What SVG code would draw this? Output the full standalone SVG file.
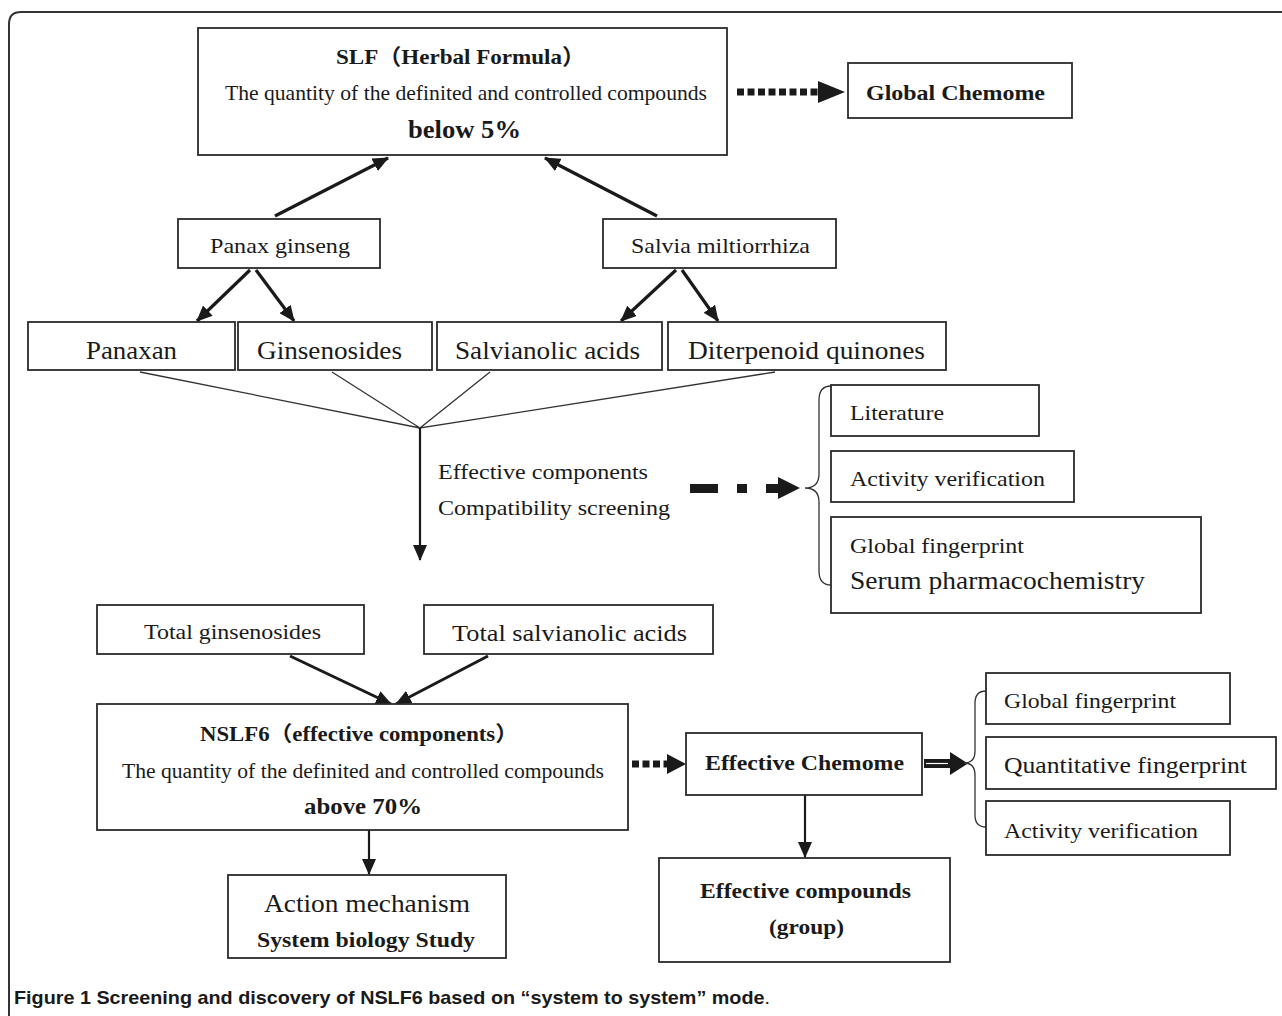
<svg xmlns="http://www.w3.org/2000/svg" width="1282" height="1016" viewBox="0 0 1282 1016">
<defs>
<style>
.bx{fill:#fff;stroke:#2b2b2b;stroke-width:1.8}
.t{font-family:"Liberation Serif","Noto Sans CJK SC",serif;fill:#1a1a1a}
.b{font-weight:bold}
.ln{stroke:#1a1a1a;fill:none}
.th{stroke:#333;stroke-width:1.3;fill:none}
.cap{font-family:"Liberation Sans","Noto Sans",sans-serif;fill:#1a1a1a}
</style>
<marker id="ah" markerUnits="userSpaceOnUse" markerWidth="16" markerHeight="14" refX="15" refY="7" orient="auto">
<path d="M0,0 L16,7 L0,14 z" fill="#1a1a1a"/>
</marker>
</defs>
<rect width="1282" height="1016" fill="#fff"/>
<path d="M9,1016 L9,24 Q9,12 21,12 L1282,12" fill="none" stroke="#333" stroke-width="2"/>

<g id="connectors">
<line class="ln" stroke-width="3.2" x1="275" y1="216" x2="388" y2="158" marker-end="url(#ah)"/>
<line class="ln" stroke-width="3.2" x1="657" y1="216" x2="545" y2="158" marker-end="url(#ah)"/>
<line class="ln" stroke-width="3.2" x1="250" y1="270" x2="197" y2="321" marker-end="url(#ah)"/>
<line class="ln" stroke-width="3.2" x1="256" y1="270" x2="294" y2="321" marker-end="url(#ah)"/>
<line class="ln" stroke-width="3.2" x1="676" y1="270" x2="621" y2="321" marker-end="url(#ah)"/>
<line class="ln" stroke-width="3.2" x1="682" y1="270" x2="718" y2="321" marker-end="url(#ah)"/>
<polyline class="th" points="140,372 420,428 332,372"/>
<polyline class="th" points="490,372 420,428 775,372"/>
<line class="ln" stroke-width="2.2" x1="420" y1="428" x2="420" y2="560" marker-end="url(#ah)"/>
<line class="ln" stroke-width="7" stroke-dasharray="7,3.5" x1="737" y1="92" x2="818" y2="92"/>
<polygon points="818,81 845,92 818,103" fill="#1a1a1a"/>
<rect x="690" y="484" width="28" height="9" fill="#1a1a1a"/>
<rect x="737" y="484" width="10" height="9" fill="#1a1a1a"/>
<rect x="766" y="484" width="13" height="9" fill="#1a1a1a"/>
<polygon points="778,477 800,488 778,499" fill="#1a1a1a"/>
<path class="th" d="M831,386 Q819,386 819,400 L819,474 Q819,488 805,488 Q819,488 819,502 L819,571 Q819,585 831,585"/>
<line class="ln" stroke-width="3" x1="290" y1="656" x2="391" y2="704" marker-end="url(#ah)"/>
<line class="ln" stroke-width="3" x1="488" y1="656" x2="396" y2="704" marker-end="url(#ah)"/>
<line class="ln" stroke-width="2.2" x1="369" y1="830" x2="369" y2="874" marker-end="url(#ah)"/>
<line class="ln" stroke-width="7" stroke-dasharray="7,3.5" x1="632" y1="764" x2="668" y2="764"/>
<polygon points="667,754 686,764 667,774" fill="#1a1a1a"/>
<rect x="924" y="759" width="28" height="9" fill="#1a1a1a"/>
<line x1="926" y1="763.5" x2="948" y2="763.5" stroke="#fff" stroke-width="1.2"/>
<polygon points="950,752 968,763.5 950,775" fill="#1a1a1a"/>
<path class="th" d="M986,691 Q975,691 975,703 L975,751 Q975,763 964,763 Q975,763 975,775 L975,815 Q975,827 986,827"/>
<line class="ln" stroke-width="2.2" x1="805" y1="795" x2="805" y2="857" marker-end="url(#ah)"/>
</g>

<g id="slf">
<rect class="bx" x="198" y="28" width="529" height="127"/>
<text class="t b" x="336" y="64" font-size="22" textLength="249" lengthAdjust="spacingAndGlyphs">SLF（Herbal Formula）</text>
<text class="t" x="225" y="100" font-size="21" textLength="482" lengthAdjust="spacingAndGlyphs">The quantity of the definited and controlled compounds</text>
<text class="t b" x="408" y="138" font-size="26" textLength="113" lengthAdjust="spacingAndGlyphs">below 5%</text>
</g>
<g id="global-chemome">
<rect class="bx" x="848" y="63" width="224" height="55"/>
<text class="t b" x="866" y="100" font-size="22" textLength="179" lengthAdjust="spacingAndGlyphs">Global Chemome</text>
</g>
<g id="panax-ginseng">
<rect class="bx" x="178" y="219" width="202" height="49"/>
<text class="t" x="210" y="253" font-size="21" textLength="140" lengthAdjust="spacingAndGlyphs">Panax ginseng</text>
</g>
<g id="salvia">
<rect class="bx" x="603" y="219" width="233" height="49"/>
<text class="t" x="631" y="253" font-size="21" textLength="179" lengthAdjust="spacingAndGlyphs">Salvia miltiorrhiza</text>
</g>
<g id="panaxan">
<rect class="bx" x="28" y="322" width="207" height="48"/>
<text class="t" x="86" y="359" font-size="25" textLength="91" lengthAdjust="spacingAndGlyphs">Panaxan</text>
</g>
<g id="ginsenosides">
<rect class="bx" x="238" y="322" width="194" height="48"/>
<text class="t" x="257" y="359" font-size="25" textLength="145" lengthAdjust="spacingAndGlyphs">Ginsenosides</text>
</g>
<g id="salvianolic-acids">
<rect class="bx" x="437" y="322" width="225" height="48"/>
<text class="t" x="455" y="359" font-size="25" textLength="185" lengthAdjust="spacingAndGlyphs">Salvianolic acids</text>
</g>
<g id="diterpenoid">
<rect class="bx" x="668" y="322" width="278" height="48"/>
<text class="t" x="688" y="359" font-size="25" textLength="237" lengthAdjust="spacingAndGlyphs">Diterpenoid quinones</text>
</g>
<g id="screening-label">
<text class="t" x="438" y="479" font-size="21" textLength="210" lengthAdjust="spacingAndGlyphs">Effective components</text>
<text class="t" x="438" y="515" font-size="21" textLength="232" lengthAdjust="spacingAndGlyphs">Compatibility screening</text>
</g>
<g id="literature">
<rect class="bx" x="831" y="385" width="208" height="51"/>
<text class="t" x="850" y="420" font-size="21" textLength="94" lengthAdjust="spacingAndGlyphs">Literature</text>
</g>
<g id="activity-1">
<rect class="bx" x="831" y="451" width="243" height="51"/>
<text class="t" x="850" y="486" font-size="21" textLength="195" lengthAdjust="spacingAndGlyphs">Activity verification</text>
</g>
<g id="serum">
<rect class="bx" x="831" y="517" width="370" height="96"/>
<text class="t" x="850" y="553" font-size="21" textLength="174" lengthAdjust="spacingAndGlyphs">Global fingerprint</text>
<text class="t" x="850" y="589" font-size="25" textLength="295" lengthAdjust="spacingAndGlyphs">Serum pharmacochemistry</text>
</g>
<g id="total-ginsenosides">
<rect class="bx" x="97" y="605" width="267" height="49"/>
<text class="t" x="144" y="639" font-size="21" textLength="177" lengthAdjust="spacingAndGlyphs">Total ginsenosides</text>
</g>
<g id="total-salvianolic">
<rect class="bx" x="424" y="605" width="289" height="49"/>
<text class="t" x="452" y="641" font-size="23" textLength="235" lengthAdjust="spacingAndGlyphs">Total salvianolic acids</text>
</g>
<g id="nslf6">
<rect class="bx" x="97" y="704" width="531" height="126"/>
<text class="t b" x="200" y="741" font-size="21" textLength="318" lengthAdjust="spacingAndGlyphs">NSLF6（effective components）</text>
<text class="t" x="122" y="778" font-size="20" textLength="482" lengthAdjust="spacingAndGlyphs">The quantity of the definited and controlled compounds</text>
<text class="t b" x="304" y="814" font-size="23" textLength="118" lengthAdjust="spacingAndGlyphs">above 70%</text>
</g>
<g id="action-mechanism">
<rect class="bx" x="228" y="875" width="278" height="83"/>
<text class="t" x="264" y="912" font-size="25" textLength="206" lengthAdjust="spacingAndGlyphs">Action mechanism</text>
<text class="t b" x="257" y="947" font-size="21" textLength="218" lengthAdjust="spacingAndGlyphs">System biology Study</text>
</g>
<g id="effective-chemome">
<rect class="bx" x="686" y="733" width="236" height="62"/>
<text class="t b" x="705" y="770" font-size="21" textLength="199" lengthAdjust="spacingAndGlyphs">Effective Chemome</text>
</g>
<g id="global-fingerprint-2">
<rect class="bx" x="986" y="673" width="244" height="51"/>
<text class="t" x="1004" y="708" font-size="21" textLength="172" lengthAdjust="spacingAndGlyphs">Global fingerprint</text>
</g>
<g id="quantitative">
<rect class="bx" x="986" y="737" width="290" height="52"/>
<text class="t" x="1004" y="773" font-size="24" textLength="243" lengthAdjust="spacingAndGlyphs">Quantitative fingerprint</text>
</g>
<g id="activity-2">
<rect class="bx" x="986" y="801" width="244" height="54"/>
<text class="t" x="1004" y="838" font-size="21" textLength="194" lengthAdjust="spacingAndGlyphs">Activity verification</text>
</g>
<g id="effective-compounds">
<rect class="bx" x="659" y="858" width="291" height="104"/>
<text class="t b" x="700" y="898" font-size="21" textLength="211" lengthAdjust="spacingAndGlyphs">Effective compounds</text>
<text class="t b" x="769" y="934" font-size="21" textLength="75" lengthAdjust="spacingAndGlyphs">(group)</text>
</g>
<text class="cap" x="14" y="1004" font-size="19" textLength="756" lengthAdjust="spacingAndGlyphs"><tspan font-weight="bold">Figure 1 Screening and discovery of NSLF6 based on “system to system” mode</tspan>.</text>
</svg>
